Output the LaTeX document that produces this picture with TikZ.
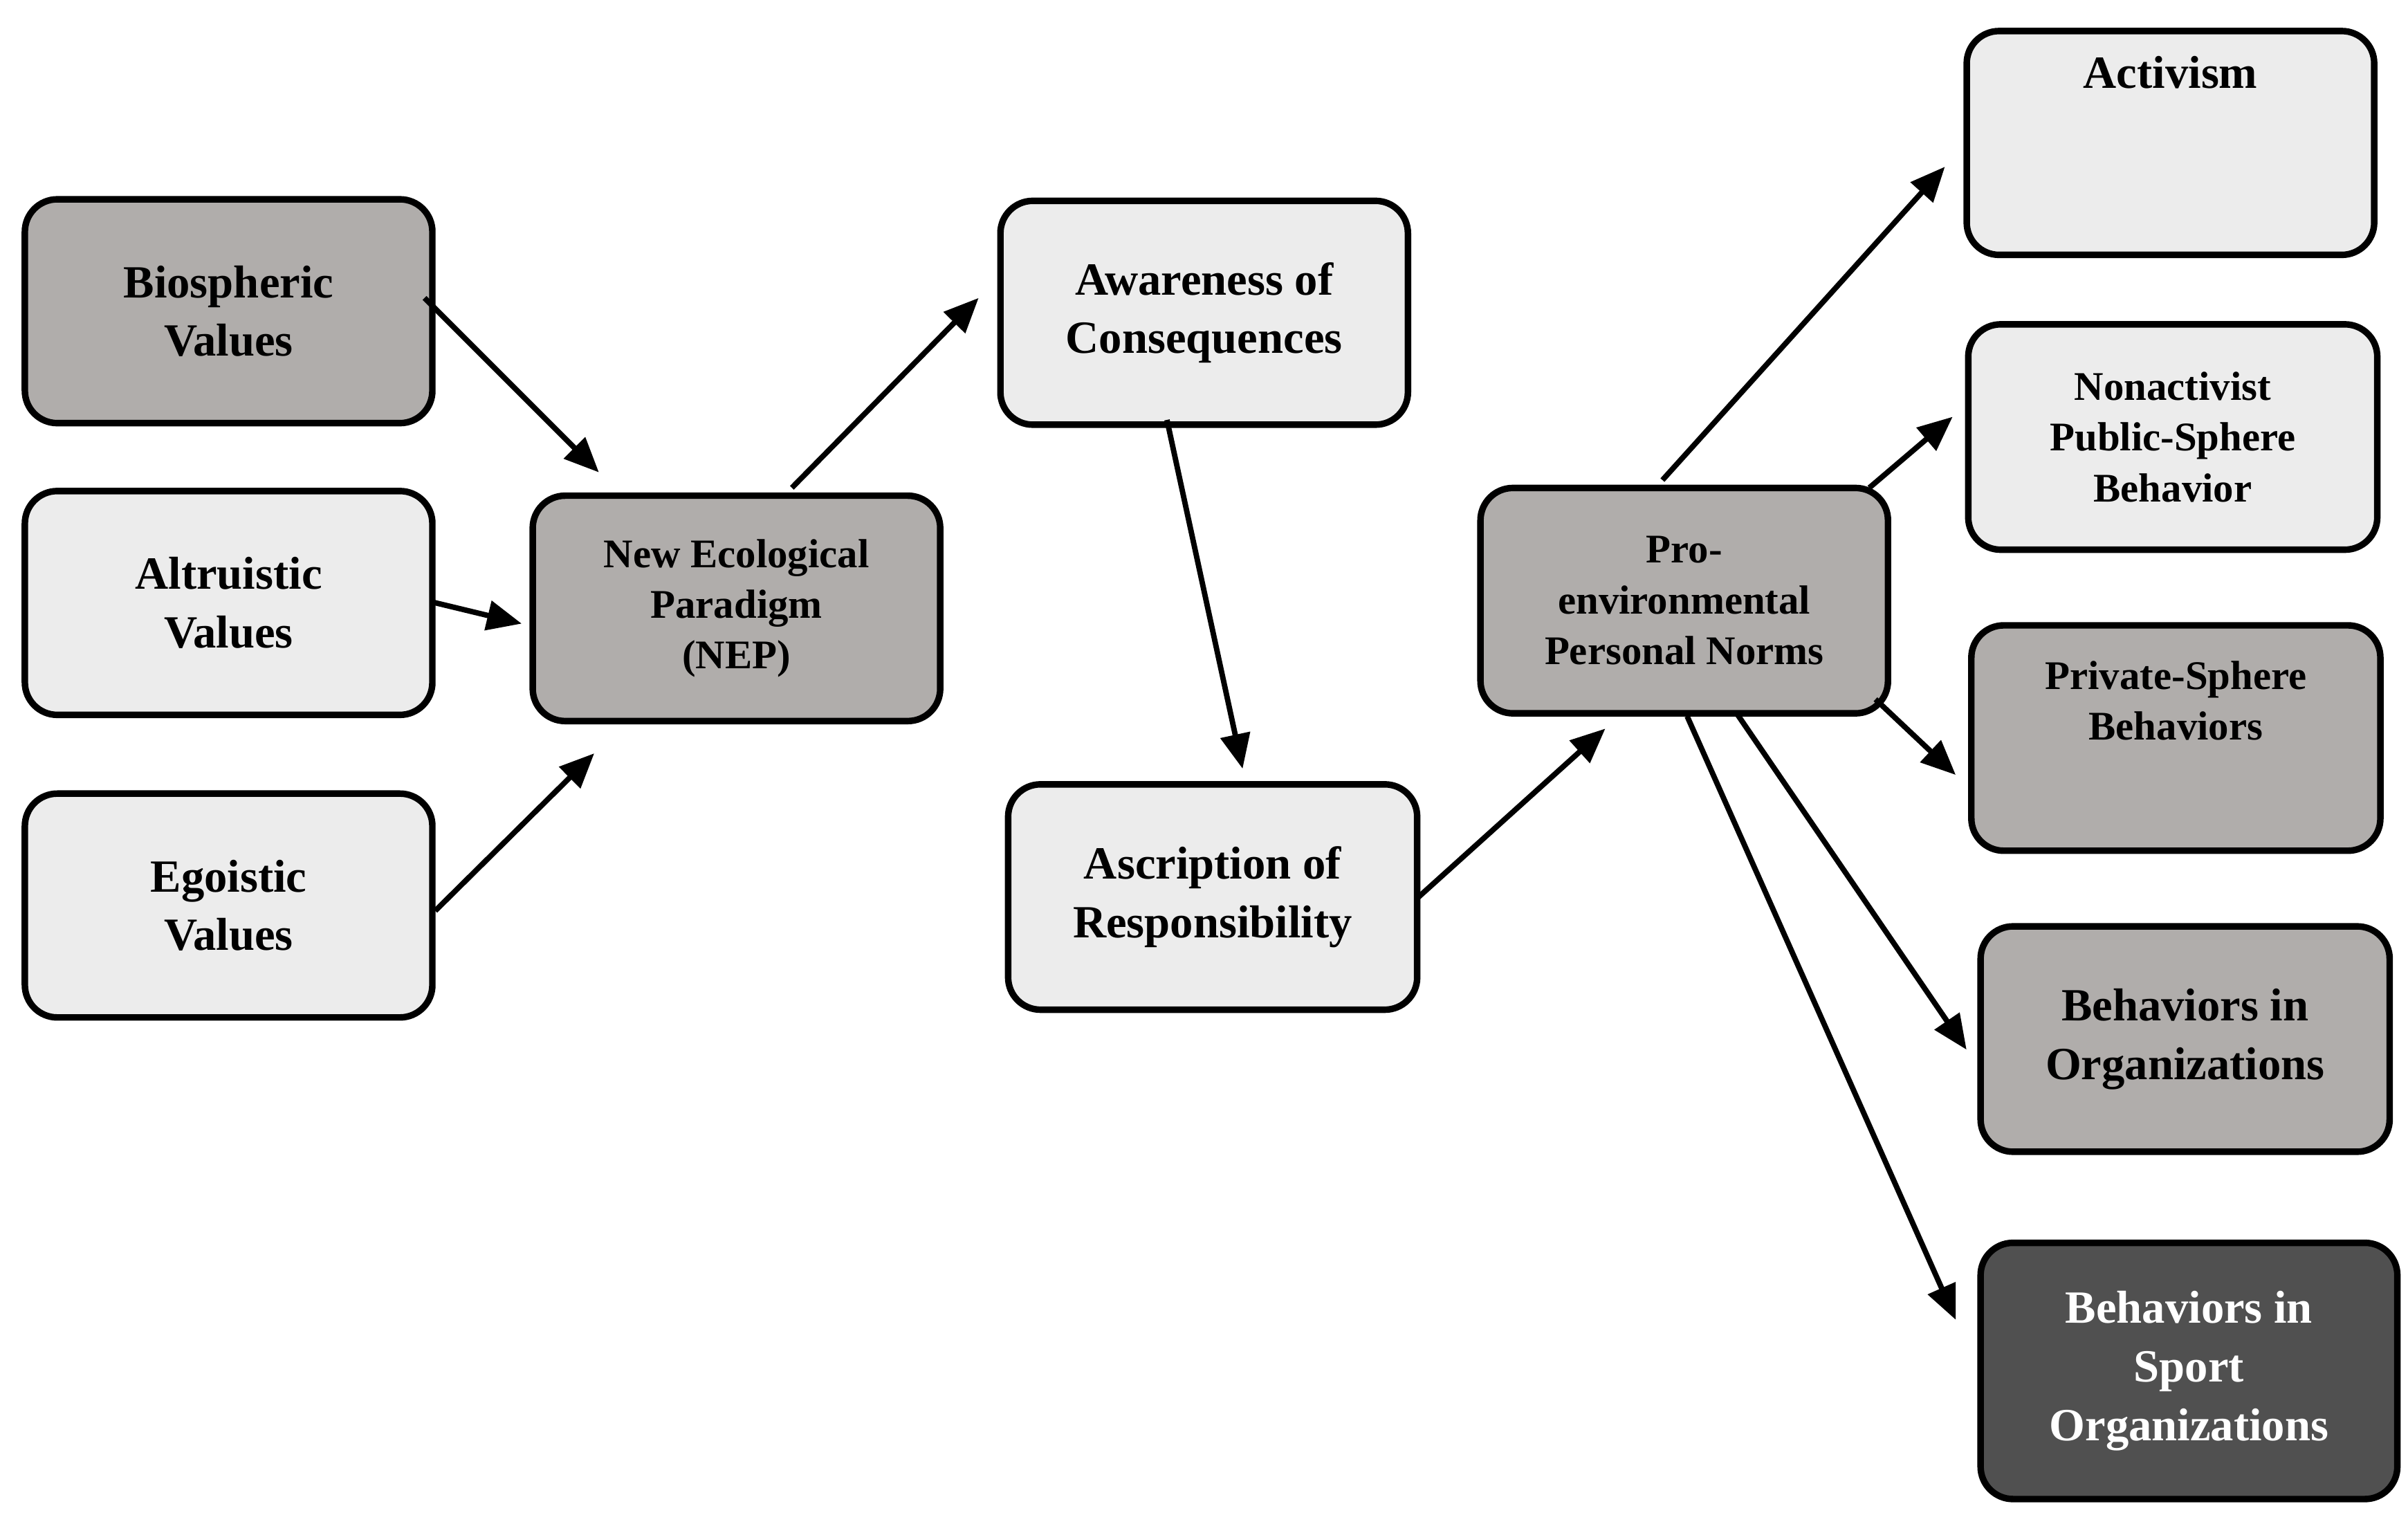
\documentclass[tikz,border=0pt]{standalone}
\usepackage{fontspec}
\setmainfont{Liberation Serif}
\usetikzlibrary{arrows.meta}
\definecolor{lightb}{RGB}{236,236,236}
\definecolor{midb}{RGB}{176,173,171}
\definecolor{darkb}{RGB}{80,80,80}
\tikzset{
 box/.style={draw=black,line width=2.4pt,rounded corners=0.42cm,align=center,font=\fontsize{17}{21.6}\selectfont\bfseries},
 small/.style={font=\fontsize{15}{18.7}\selectfont\bfseries},
 arr/.style={line width=2pt,-{Triangle[length=0.45cm,width=0.38cm]}}
}
\newcommand{\bx}[7]{\node[box,#6,minimum width=#3cm-#1cm,minimum height=#4cm-#2cm,anchor=north west] (#5) at (#1*0.02,-#2*0.02) {#7};}
\begin{document}
\begin{tikzpicture}[x=0.02cm,y=-0.02cm]
\useasboundingbox (0,0) rectangle (1560,981);
\def\B#1#2#3#4#5#6#7{\node[box,#6,minimum width=#3*0.02cm-#1*0.02cm,minimum height=#4*0.02cm-#2*0.02cm,anchor=north west] (#5) at (#1,#2) {#7};}
\B{14}{127}{278}{272}{bio}{fill=midb}{Biospheric\\Values}
\B{14}{316}{278}{461}{alt}{fill=lightb}{Altruistic\\Values}
\B{14}{512}{278}{657}{ego}{fill=lightb}{Egoistic\\Values}
\B{343}{319}{607}{465}{nep}{fill=midb,small}{New Ecological\\Paradigm\\(NEP)}
\B{646}{128}{910}{273}{awa}{fill=lightb}{Awareness of\\Consequences}
\B{651}{506}{916}{652}{asc}{fill=lightb}{Ascription of\\Responsibility}
\B{957}{314}{1221}{460}{pro}{fill=midb,small}{Pro-\\environmental\\Personal Norms}
\B{1272}{18}{1536}{163}{act}{fill=lightb}{Activism\\[1.8em]}
\B{1273}{208}{1538}{354}{non}{fill=lightb,small}{Nonactivist\\Public-Sphere\\Behavior}
\B{1275}{403}{1540}{549}{pri}{fill=midb,small}{Private-Sphere\\Behaviors\\[0.6em]}
\B{1281}{598}{1546}{744}{org}{fill=midb}{Behaviors in\\Organizations}
\B{1281}{803}{1551}{969}{spo}{fill=darkb,text=white}{Behaviors in\\Sport\\Organizations}
\coordinate (a1) at (275,193); \coordinate (b1) at (388,306);
\coordinate (a2) at (280,390); \coordinate (b2) at (338,404);
\coordinate (a3) at (282,590); \coordinate (b3) at (385,488);
\coordinate (a4) at (513,316); \coordinate (b4) at (634,193);
\coordinate (a5) at (756,272); \coordinate (b5) at (805,498);
\coordinate (a6) at (918,582); \coordinate (b6) at (1040,472);
\coordinate (a7) at (1077,311); \coordinate (b7) at (1260,108);
\coordinate (a8) at (1211,316); \coordinate (b8) at (1265,270);
\coordinate (a9) at (1215,453); \coordinate (b9) at (1267,502);
\coordinate (a10) at (1125,462); \coordinate (b10) at (1274,680);
\coordinate (a11) at (1093,464); \coordinate (b11) at (1267,855);
\foreach \i in {1,...,11} \draw[arr] (a\i) -- (b\i);
\end{tikzpicture}
\end{document}
